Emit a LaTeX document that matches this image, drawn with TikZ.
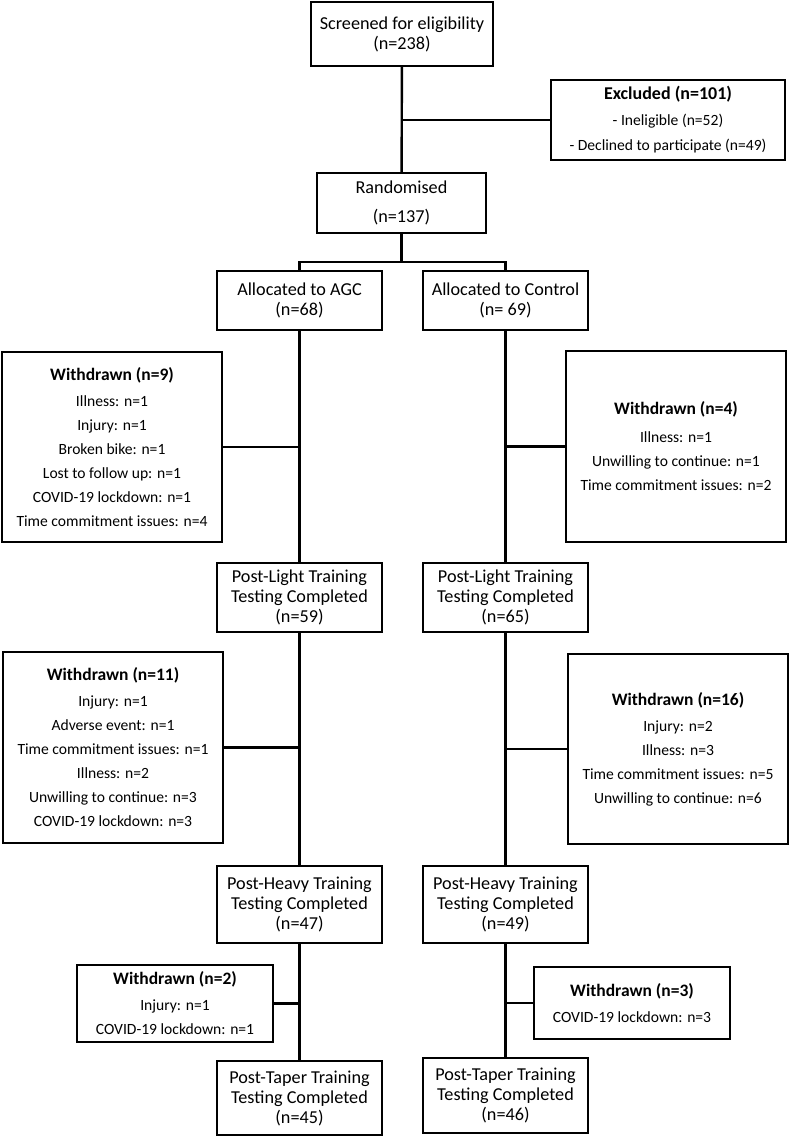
\documentclass[tikz,border=0pt]{standalone}
\usepackage{fontspec}
\setmainfont{Carlito}
\usetikzlibrary{positioning, calc}

\begin{document}
\begin{tikzpicture}[
  x=1pt, y=-1pt,
  box/.style={rectangle, draw=black, line width=2.4pt, align=center,
    inner sep=0pt, fill=white},
  stage/.style={box, font=\fontsize{18.2}{20}\selectfont,
    minimum width=165pt},
  wdbox/.style={box, font=\fontsize{15.6}{24}\selectfont,
    minimum width=220pt},
  link/.style={line width=2.4pt},
]
\useasboundingbox (0,0) rectangle (790,1138);
% ====== ENROLMENT ======
\node[stage, minimum width=182pt, minimum height=64pt] (screen) at (402,34)
  {Screened for eligibility\\(n=238)};
\node[box, font=\fontsize{15.6}{25.5}\selectfont, minimum width=234pt,
  minimum height=80pt] (excl) at (668,120)
  {{\fontsize{18}{25}\selectfont\bfseries Excluded (n=101)}\\
   - Ineligible (n=52)\\- Declined to participate (n=49)};
\node[stage, minimum width=169pt, minimum height=60pt] (rand) at (401.5,203)
  {Randomised\\[9pt](n=137)};
\draw[link] (screen) -- (rand);
\draw[link] (excl.west) -- (excl.west -| screen.south);
%
% ====== ALLOCATION ======
\node[stage, minimum height=59pt] (agc) at (299.5,300.5)
  {Allocated to AGC\\(n=68)};
\node[stage, minimum height=59pt] (ctrl) at (505.5,300.5)
  {Allocated to Control\\(n= 69)};
\coordinate (split) at ($(rand.south)+(0,28)$);
\draw[link] (rand.south) -- (split);
\draw[link] (agc.north) |- (split) -| (ctrl.north);
%
% ====== LIGHT TRAINING ======
\node[wdbox, minimum height=190pt] (wA1) at (112,447)
  {{\fontsize{17.5}{24}\selectfont\bfseries Withdrawn (n=9)}\\[2pt]
   Illness: n=1\\Injury: n=1\\Broken bike: n=1\\Lost to follow up: n=1\\
   COVID-19 lockdown: n=1\\Time commitment issues: n=4};
\node[wdbox, minimum height=191pt] (wC1) at (676,446.5)
  {{\fontsize{17.5}{24}\selectfont\bfseries Withdrawn (n=4)}\\[4pt]
   Illness: n=1\\Unwilling to continue: n=1\\Time commitment issues: n=2};
\node[stage, minimum height=69pt] (lightA) at (299.5,597.5)
  {Post-Light Training\\Testing Completed\\(n=59)};
\node[stage, minimum height=69pt] (lightC) at (505.5,597.5)
  {Post-Light Training\\Testing Completed\\(n=65)};
\draw[link] (agc) -- (lightA);
\draw[link] (ctrl) -- (lightC);
\draw[link] (wA1.east) -- (wA1.east -| agc.south);
\draw[link] (wC1.west) -- (wC1.west -| ctrl.south);
%
% ====== HEAVY TRAINING ======
\node[wdbox, minimum height=191pt] (wA2) at (113,747.5)
  {{\fontsize{17.5}{24}\selectfont\bfseries Withdrawn (n=11)}\\[2pt]
   Injury: n=1\\Adverse event: n=1\\Time commitment issues: n=1\\
   Illness: n=2\\Unwilling to continue: n=3\\COVID-19 lockdown: n=3};
\node[wdbox, minimum height=190pt] (wC2) at (678,749)
  {{\fontsize{17.5}{24}\selectfont\bfseries Withdrawn (n=16)}\\[2pt]
   Injury: n=2\\Illness: n=3\\Time commitment issues: n=5\\
   Unwilling to continue: n=6};
\node[stage, minimum height=77pt] (heavyA) at (299.5,904.5)
  {Post-Heavy Training\\Testing Completed\\(n=47)};
\node[stage, minimum height=77pt] (heavyC) at (505.5,904.5)
  {Post-Heavy Training\\Testing Completed\\(n=49)};
\draw[link] (lightA) -- (heavyA);
\draw[link] (lightC) -- (heavyC);
\draw[link] (wA2.east) -- (wA2.east -| lightA.south);
\draw[link] (wC2.west) -- (wC2.west -| lightC.south);
%
% ====== TAPER ======
\node[wdbox, minimum width=196pt, minimum height=77pt] (wA3) at (175,1003.5)
  {{\fontsize{17.5}{24}\selectfont\bfseries Withdrawn (n=2)}\\[2pt]
   Injury: n=1\\COVID-19 lockdown: n=1};
\node[wdbox, minimum width=196pt, minimum height=72pt] (wC3) at (632,1003)
  {{\fontsize{17.5}{24}\selectfont\bfseries Withdrawn (n=3)}\\[2pt]
   COVID-19 lockdown: n=3};
\node[stage, minimum height=74pt] (taperA) at (299.5,1098)
  {Post-Taper Training\\Testing Completed\\(n=45)};
\node[stage, minimum height=75pt] (taperC) at (505.5,1095.5)
  {Post-Taper Training\\Testing Completed\\(n=46)};
\draw[link] (heavyA) -- (taperA);
\draw[link] (heavyC) -- (taperC);
\draw[link] (wA3.east) -- (wA3.east -| heavyA.south);
\draw[link] (wC3.west) -- (wC3.west -| heavyC.south);
\end{tikzpicture}
\end{document}
